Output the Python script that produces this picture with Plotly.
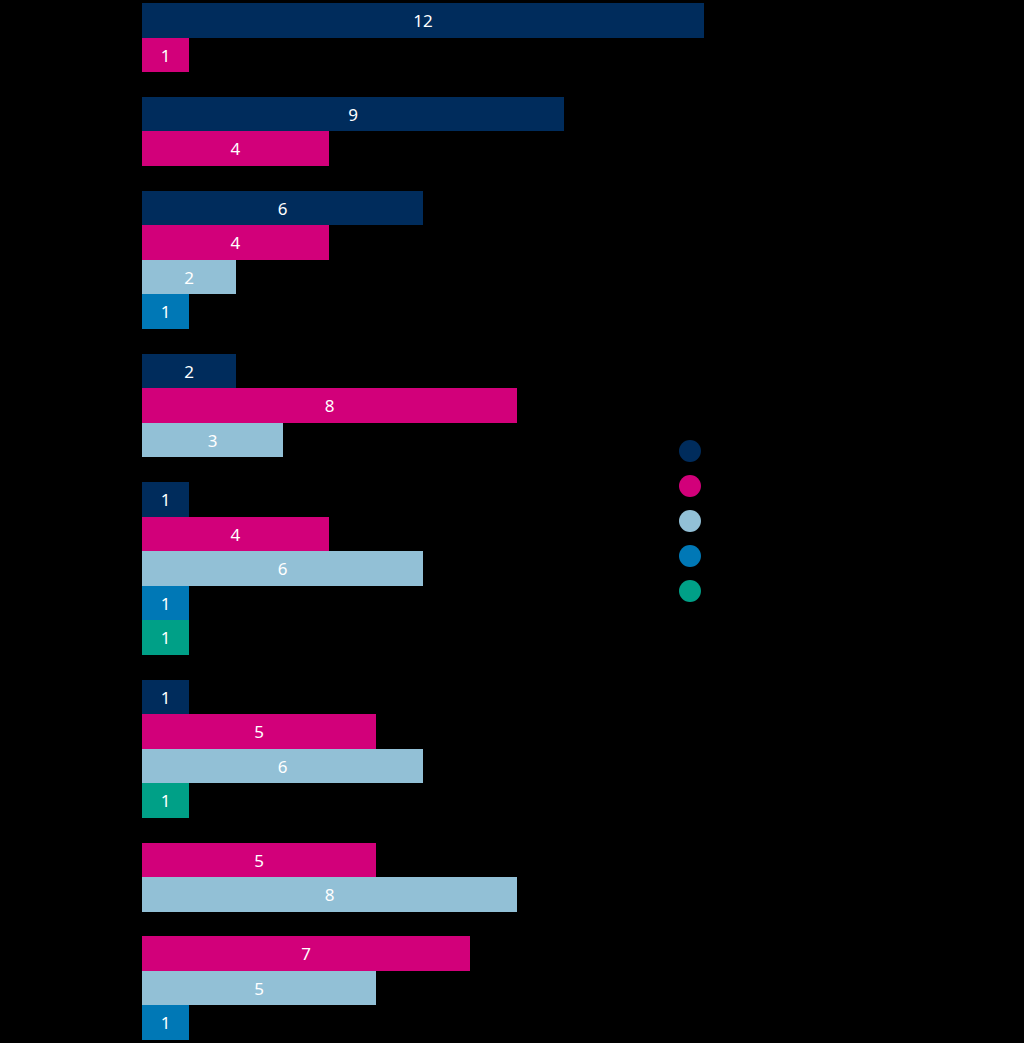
import plotly.graph_objects as go

# Category and series labels (rendered in black on black, as in the reference)
categories = ['Category 1', 'Category 2', 'Category 3', 'Category 4',
              'Category 5', 'Category 6', 'Category 7', 'Category 8']
series_names = ['Series 1', 'Series 2', 'Series 3', 'Series 4', 'Series 5']
series_colors = ['#002c5c', '#d2007a', '#92c0d6', '#0078b6', '#00a087']

# None = no bar for that category
series_1 = [12, 9, 6, 2, 1, 1, None, None]
series_2 = [1, 4, 4, 8, 4, 5, 5, 7]
series_3 = [None, None, 2, 3, 6, 6, 8, 5]
series_4 = [None, None, 1, None, 1, None, None, 1]
series_5 = [None, None, None, None, 1, 1, None, None]

all_series = [series_1, series_2, series_3, series_4, series_5]

GROUP_GAP = 0.72  # gap between category groups, in bar heights

# Compact layout: each category only takes rows for the bars it has
bar_x = [[] for _ in all_series]
bar_y = [[] for _ in all_series]
group_centers = []
pos = 0.0
for ci in range(len(categories)):
    start = pos
    for si, vals in enumerate(all_series):
        v = vals[ci]
        if v is None:
            continue
        bar_x[si].append(v)
        bar_y[si].append(pos + 0.5)
        pos += 1
    group_centers.append((start + pos) / 2)
    pos += GROUP_GAP
total = pos - GROUP_GAP

fig = go.Figure()

for si, name in enumerate(series_names):
    fig.add_trace(go.Bar(
        x=bar_x[si],
        y=bar_y[si],
        orientation='h',
        width=1,
        name=name,
        marker=dict(color=series_colors[si], line=dict(width=0)),
        text=[str(v) for v in bar_x[si]],
        textposition='inside',
        insidetextanchor='middle',
        textangle=0,
        textfont=dict(color='white', size=17, family='Noto Sans'),
        showlegend=False,
    ))

# Legend drawn as a marker column on a hidden overlay axis
fig.add_trace(go.Scatter(
    x=[0.6213] * len(series_names),
    y=list(range(len(series_names))),
    mode='markers+text',
    marker=dict(size=22, color=series_colors, line=dict(width=0)),
    text=['  ' + n for n in series_names],
    textposition='middle right',
    textfont=dict(color='black', size=15, family='Noto Sans'),
    xaxis='x2',
    yaxis='y2',
    showlegend=False,
    hoverinfo='skip',
))

plot_w = 1024 - 142
px_per_unit_x = (704 - 142) / 12
plot_h = 1043 - 3 - 3
leg_step = 35
leg_top = (451 - 3) / leg_step

fig.update_layout(
    width=1024,
    height=1043,
    margin=dict(l=142, r=0, t=3, b=3),
    paper_bgcolor='black',
    plot_bgcolor='black',
    barmode='overlay',
    bargap=0,
    showlegend=False,
    xaxis=dict(
        range=[0, plot_w / px_per_unit_x],
        showgrid=False, zeroline=False, showticklabels=False,
        showline=False, ticks='',
    ),
    yaxis=dict(
        range=[total, 0],
        tickvals=group_centers,
        ticktext=categories,
        tickfont=dict(color='black', size=15, family='Noto Sans'),
        showgrid=False, zeroline=False, showline=False, ticks='',
    ),
    xaxis2=dict(
        domain=[0, 1], range=[0, 1], anchor='y2', overlaying='x',
        visible=False,
    ),
    yaxis2=dict(
        domain=[0, 1], range=[plot_h / leg_step - leg_top, -leg_top],
        anchor='x2', overlaying='y', visible=False,
    ),
)

fig.write_html(
    "out.html",
    config={'displayModeBar': False},
    post_script="document.body.style.margin='0';"
                "document.body.style.background='black';",
)
